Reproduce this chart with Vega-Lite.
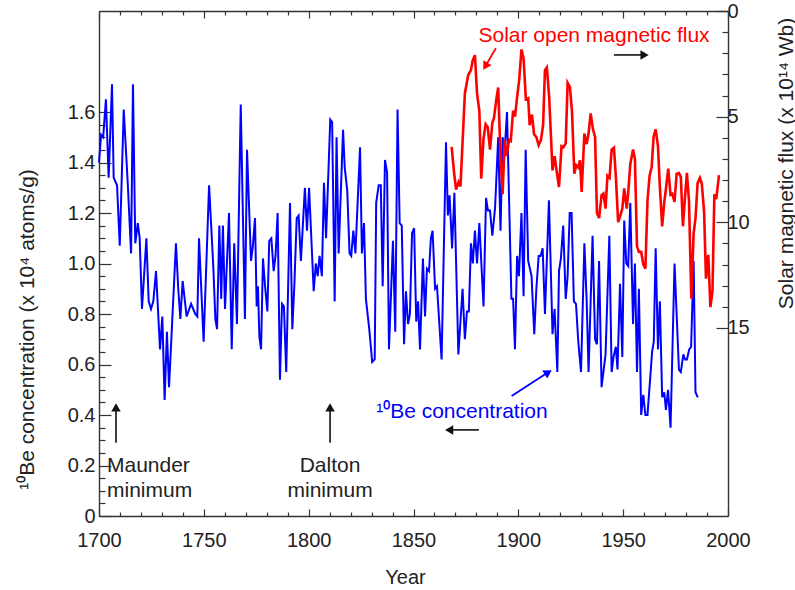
{
  "$schema": "https://vega.github.io/schema/vega-lite/v6.json",
  "width": 629,
  "height": 505,
  "autosize": {"type": "none"},
  "padding": {"left": 99, "top": 11, "right": 67, "bottom": 74},
  "background": "white",
  "config": {
    "view": {"stroke": null},
    "font": "Liberation Sans",
    "axis": {
      "grid": false,
      "domainColor": "#333",
      "domainWidth": 1.4,
      "tickColor": "#333",
      "tickWidth": 1.2,
      "labelFont": "Liberation Sans",
      "labelFontSize": 20,
      "labelColor": "#222",
      "labelOverlap": false,
      "labelFlush": false,
      "titleFont": "Liberation Sans",
      "titleFontWeight": "normal",
      "titleColor": "#222"
    }
  },
  "datasets": {
    "be": [
      {"year": 1700.0, "be": 1.40}, {"year": 1701.0, "be": 1.51}, {"year": 1702.0, "be": 1.50}, {"year": 1703.3, "be": 1.65},
      {"year": 1704.6, "be": 1.34}, {"year": 1706.2, "be": 1.71}, {"year": 1707.0, "be": 1.34}, {"year": 1708.6, "be": 1.31},
      {"year": 1709.9, "be": 1.07}, {"year": 1711.8, "be": 1.61}, {"year": 1713.7, "be": 1.32}, {"year": 1715.3, "be": 1.04},
      {"year": 1716.2, "be": 1.71}, {"year": 1717.3, "be": 1.08}, {"year": 1718.5, "be": 1.16}, {"year": 1719.4, "be": 1.10},
      {"year": 1720.5, "be": 0.82}, {"year": 1722.6, "be": 1.10}, {"year": 1723.7, "be": 0.85}, {"year": 1724.8, "be": 0.82},
      {"year": 1725.9, "be": 0.85}, {"year": 1727.2, "be": 0.97}, {"year": 1729.1, "be": 0.66}, {"year": 1730.2, "be": 0.79},
      {"year": 1731.3, "be": 0.46}, {"year": 1732.4, "be": 0.73}, {"year": 1733.4, "be": 0.51}, {"year": 1736.7, "be": 1.08},
      {"year": 1737.8, "be": 0.90}, {"year": 1738.8, "be": 0.78}, {"year": 1739.9, "be": 0.93}, {"year": 1741.8, "be": 0.79},
      {"year": 1743.9, "be": 0.84}, {"year": 1745.9, "be": 0.80}, {"year": 1746.9, "be": 0.79}, {"year": 1747.7, "be": 1.10},
      {"year": 1749.9, "be": 0.69}, {"year": 1752.5, "be": 1.31}, {"year": 1754.5, "be": 0.99}, {"year": 1755.5, "be": 0.78},
      {"year": 1756.3, "be": 0.74}, {"year": 1757.4, "be": 1.15}, {"year": 1758.3, "be": 0.86}, {"year": 1759.1, "be": 1.15},
      {"year": 1760.1, "be": 0.82}, {"year": 1762.0, "be": 1.20}, {"year": 1763.3, "be": 0.66}, {"year": 1764.5, "be": 1.08},
      {"year": 1765.8, "be": 0.76}, {"year": 1767.6, "be": 1.63}, {"year": 1769.6, "be": 0.78}, {"year": 1770.6, "be": 1.45},
      {"year": 1772.5, "be": 1.01}, {"year": 1773.4, "be": 1.07}, {"year": 1774.4, "be": 1.18}, {"year": 1775.2, "be": 0.83},
      {"year": 1775.8, "be": 0.91}, {"year": 1776.5, "be": 0.71}, {"year": 1777.3, "be": 0.66}, {"year": 1778.2, "be": 1.02},
      {"year": 1779.2, "be": 0.91}, {"year": 1780.3, "be": 0.81}, {"year": 1781.2, "be": 1.09}, {"year": 1782.2, "be": 1.10},
      {"year": 1783.3, "be": 0.97}, {"year": 1784.2, "be": 1.03}, {"year": 1785.2, "be": 1.20}, {"year": 1786.3, "be": 0.54},
      {"year": 1787.3, "be": 0.84}, {"year": 1788.2, "be": 0.83}, {"year": 1789.3, "be": 0.57}, {"year": 1791.1, "be": 1.24},
      {"year": 1792.2, "be": 0.74}, {"year": 1793.2, "be": 0.92}, {"year": 1794.3, "be": 1.18}, {"year": 1795.2, "be": 1.19},
      {"year": 1796.3, "be": 1.01}, {"year": 1798.2, "be": 1.30}, {"year": 1799.2, "be": 1.13}, {"year": 1800.2, "be": 1.30},
      {"year": 1802.4, "be": 0.89}, {"year": 1803.4, "be": 1.00}, {"year": 1804.3, "be": 0.95}, {"year": 1805.2, "be": 1.03},
      {"year": 1806.3, "be": 0.95}, {"year": 1807.3, "be": 1.32}, {"year": 1808.3, "be": 1.10}, {"year": 1810.3, "be": 1.57},
      {"year": 1811.2, "be": 1.56}, {"year": 1812.4, "be": 0.85}, {"year": 1813.3, "be": 1.50}, {"year": 1814.3, "be": 1.04},
      {"year": 1816.4, "be": 1.53}, {"year": 1817.2, "be": 1.38}, {"year": 1818.4, "be": 1.29}, {"year": 1819.5, "be": 1.04},
      {"year": 1820.3, "be": 1.03}, {"year": 1821.3, "be": 1.13}, {"year": 1822.3, "be": 1.04}, {"year": 1824.5, "be": 1.46},
      {"year": 1825.4, "be": 1.04}, {"year": 1826.4, "be": 1.16}, {"year": 1827.3, "be": 0.86}, {"year": 1828.9, "be": 0.74},
      {"year": 1830.3, "be": 0.61}, {"year": 1831.5, "be": 0.62}, {"year": 1832.2, "be": 1.24}, {"year": 1833.4, "be": 1.31},
      {"year": 1834.4, "be": 1.31}, {"year": 1835.3, "be": 0.91}, {"year": 1836.4, "be": 1.41}, {"year": 1837.4, "be": 1.36},
      {"year": 1838.3, "be": 0.66}, {"year": 1840.2, "be": 1.09}, {"year": 1841.3, "be": 0.73}, {"year": 1842.4, "be": 1.61},
      {"year": 1843.4, "be": 1.16}, {"year": 1844.4, "be": 1.15}, {"year": 1845.5, "be": 0.68}, {"year": 1846.4, "be": 0.89},
      {"year": 1847.4, "be": 0.76}, {"year": 1848.3, "be": 0.80}, {"year": 1849.3, "be": 1.12}, {"year": 1850.3, "be": 1.14},
      {"year": 1851.3, "be": 0.77}, {"year": 1852.2, "be": 0.85}, {"year": 1853.1, "be": 0.66}, {"year": 1854.5, "be": 1.02},
      {"year": 1855.5, "be": 0.79}, {"year": 1856.4, "be": 0.98}, {"year": 1857.4, "be": 0.97}, {"year": 1858.3, "be": 1.10},
      {"year": 1859.1, "be": 1.13}, {"year": 1860.3, "be": 0.90}, {"year": 1861.2, "be": 0.91}, {"year": 1863.4, "be": 0.62},
      {"year": 1865.5, "be": 1.48}, {"year": 1866.4, "be": 1.19}, {"year": 1867.2, "be": 1.27}, {"year": 1868.4, "be": 1.06},
      {"year": 1869.5, "be": 1.28}, {"year": 1871.4, "be": 0.64}, {"year": 1873.4, "be": 0.90}, {"year": 1874.5, "be": 0.70},
      {"year": 1875.5, "be": 0.81}, {"year": 1876.4, "be": 0.81}, {"year": 1877.4, "be": 1.08}, {"year": 1878.3, "be": 1.00},
      {"year": 1879.3, "be": 1.13}, {"year": 1880.3, "be": 1.00}, {"year": 1881.4, "be": 1.16}, {"year": 1883.4, "be": 0.83},
      {"year": 1884.6, "be": 1.26}, {"year": 1885.5, "be": 1.21}, {"year": 1886.5, "be": 1.21}, {"year": 1887.6, "be": 1.11},
      {"year": 1888.9, "be": 1.22}, {"year": 1890.4, "be": 1.50}, {"year": 1891.5, "be": 1.13}, {"year": 1892.5, "be": 1.50},
      {"year": 1893.5, "be": 1.45}, {"year": 1894.6, "be": 1.60}, {"year": 1896.7, "be": 0.86}, {"year": 1897.5, "be": 0.86},
      {"year": 1898.4, "be": 0.66}, {"year": 1899.4, "be": 1.03}, {"year": 1900.3, "be": 0.95}, {"year": 1901.5, "be": 1.20},
      {"year": 1902.5, "be": 0.87}, {"year": 1903.5, "be": 1.45}, {"year": 1904.7, "be": 1.01}, {"year": 1906.3, "be": 0.95},
      {"year": 1907.6, "be": 0.72}, {"year": 1908.6, "be": 0.90}, {"year": 1909.7, "be": 1.03}, {"year": 1910.6, "be": 1.03},
      {"year": 1911.6, "be": 1.06}, {"year": 1912.7, "be": 0.80}, {"year": 1914.6, "be": 1.25}, {"year": 1916.3, "be": 0.72},
      {"year": 1917.3, "be": 0.82}, {"year": 1918.6, "be": 0.57}, {"year": 1919.4, "be": 0.97}, {"year": 1920.3, "be": 1.02},
      {"year": 1921.4, "be": 1.15}, {"year": 1922.6, "be": 0.86}, {"year": 1923.5, "be": 0.95}, {"year": 1924.5, "be": 1.20},
      {"year": 1925.4, "be": 1.20}, {"year": 1926.5, "be": 0.85}, {"year": 1927.5, "be": 0.84}, {"year": 1928.6, "be": 0.69},
      {"year": 1929.9, "be": 0.57}, {"year": 1931.5, "be": 1.08}, {"year": 1932.6, "be": 0.85}, {"year": 1933.5, "be": 0.57},
      {"year": 1935.4, "be": 1.11}, {"year": 1936.6, "be": 0.70}, {"year": 1937.5, "be": 0.68}, {"year": 1938.5, "be": 1.01},
      {"year": 1939.7, "be": 0.51}, {"year": 1941.6, "be": 0.64}, {"year": 1943.4, "be": 1.11}, {"year": 1944.5, "be": 0.57},
      {"year": 1945.4, "be": 0.63}, {"year": 1946.5, "be": 0.67}, {"year": 1947.3, "be": 0.58}, {"year": 1948.5, "be": 0.92},
      {"year": 1949.6, "be": 0.63}, {"year": 1950.5, "be": 1.17}, {"year": 1951.5, "be": 1.00}, {"year": 1952.4, "be": 0.99},
      {"year": 1953.4, "be": 1.24}, {"year": 1954.7, "be": 0.76}, {"year": 1955.6, "be": 1.00}, {"year": 1956.6, "be": 0.57},
      {"year": 1957.5, "be": 0.90}, {"year": 1958.6, "be": 0.40}, {"year": 1959.6, "be": 0.48}, {"year": 1960.6, "be": 0.40},
      {"year": 1961.6, "be": 0.40}, {"year": 1963.8, "be": 0.65}, {"year": 1964.6, "be": 0.69}, {"year": 1965.5, "be": 1.06},
      {"year": 1966.6, "be": 0.66}, {"year": 1967.5, "be": 0.85}, {"year": 1968.6, "be": 0.47}, {"year": 1969.6, "be": 0.49},
      {"year": 1970.4, "be": 0.42}, {"year": 1971.4, "be": 0.50}, {"year": 1972.6, "be": 0.35}, {"year": 1974.5, "be": 1.00},
      {"year": 1976.6, "be": 0.58}, {"year": 1977.5, "be": 0.57}, {"year": 1978.7, "be": 0.64}, {"year": 1979.5, "be": 0.62},
      {"year": 1980.4, "be": 0.62}, {"year": 1981.5, "be": 0.66}, {"year": 1982.4, "be": 0.67}, {"year": 1983.6, "be": 1.01},
      {"year": 1984.5, "be": 0.49}, {"year": 1985.6, "be": 0.47}
    ],
    "flux": [
      {"year": 1868.2, "flux": 6.43}, {"year": 1869.3, "flux": 7.6}, {"year": 1870.3, "flux": 8.45}, {"year": 1871.5, "flux": 8.1},
      {"year": 1872.4, "flux": 8.3}, {"year": 1874.5, "flux": 3.9}, {"year": 1876.1, "flux": 3.03}, {"year": 1877.4, "flux": 2.8},
      {"year": 1878.2, "flux": 2.35}, {"year": 1879.3, "flux": 2.09}, {"year": 1880.3, "flux": 3.9}, {"year": 1881.4, "flux": 4.72},
      {"year": 1882.3, "flux": 7.93}, {"year": 1883.4, "flux": 6.05}, {"year": 1884.4, "flux": 5.36}, {"year": 1885.4, "flux": 5.5},
      {"year": 1886.5, "flux": 6.56}, {"year": 1887.6, "flux": 5.3}, {"year": 1888.4, "flux": 5.05}, {"year": 1889.5, "flux": 4.18},
      {"year": 1890.4, "flux": 3.62}, {"year": 1891.3, "flux": 6.3}, {"year": 1892.5, "flux": 8.67}, {"year": 1893.5, "flux": 6.1},
      {"year": 1894.4, "flux": 6.87}, {"year": 1895.6, "flux": 6.1}, {"year": 1896.4, "flux": 6.15}, {"year": 1897.5, "flux": 4.72},
      {"year": 1898.4, "flux": 5.0}, {"year": 1899.4, "flux": 4.1}, {"year": 1900.4, "flux": 3.27}, {"year": 1901.5, "flux": 1.82},
      {"year": 1902.5, "flux": 2.24}, {"year": 1903.6, "flux": 4.18}, {"year": 1904.7, "flux": 4.13}, {"year": 1905.4, "flux": 5.4},
      {"year": 1906.5, "flux": 4.9}, {"year": 1907.5, "flux": 5.83}, {"year": 1908.6, "flux": 5.97}, {"year": 1909.7, "flux": 6.35},
      {"year": 1910.8, "flux": 6.1}, {"year": 1911.8, "flux": 5.4}, {"year": 1912.7, "flux": 2.8}, {"year": 1913.6, "flux": 2.67},
      {"year": 1914.7, "flux": 4.06}, {"year": 1916.3, "flux": 7.54}, {"year": 1917.3, "flux": 6.87}, {"year": 1918.3, "flux": 7.6},
      {"year": 1919.4, "flux": 8.33}, {"year": 1920.6, "flux": 6.4}, {"year": 1921.5, "flux": 6.45}, {"year": 1922.6, "flux": 6.27},
      {"year": 1923.5, "flux": 3.4}, {"year": 1924.6, "flux": 3.6}, {"year": 1925.6, "flux": 4.77}, {"year": 1926.7, "flux": 7.7},
      {"year": 1927.6, "flux": 7.3}, {"year": 1928.6, "flux": 7.4}, {"year": 1929.4, "flux": 7.06}, {"year": 1930.2, "flux": 8.56},
      {"year": 1931.5, "flux": 5.8}, {"year": 1932.6, "flux": 6.3}, {"year": 1933.5, "flux": 5.8}, {"year": 1934.5, "flux": 4.85},
      {"year": 1935.6, "flux": 5.6}, {"year": 1936.6, "flux": 5.96}, {"year": 1937.5, "flux": 9.56}, {"year": 1938.5, "flux": 9.8},
      {"year": 1939.7, "flux": 8.72}, {"year": 1940.6, "flux": 8.64}, {"year": 1941.6, "flux": 9.35}, {"year": 1942.5, "flux": 7.8},
      {"year": 1943.5, "flux": 7.9}, {"year": 1944.5, "flux": 6.56}, {"year": 1945.6, "flux": 6.47}, {"year": 1946.5, "flux": 7.8},
      {"year": 1947.6, "flux": 9.99}, {"year": 1948.6, "flux": 9.7}, {"year": 1949.6, "flux": 9.35}, {"year": 1950.5, "flux": 8.4},
      {"year": 1951.7, "flux": 9.35}, {"year": 1952.4, "flux": 8.6}, {"year": 1953.4, "flux": 7.25}, {"year": 1954.7, "flux": 6.56},
      {"year": 1955.6, "flux": 6.99}, {"year": 1956.6, "flux": 11.14}, {"year": 1957.5, "flux": 11.4}, {"year": 1958.6, "flux": 11.4},
      {"year": 1959.6, "flux": 11.99}, {"year": 1960.6, "flux": 12.2}, {"year": 1961.6, "flux": 8.96}, {"year": 1962.6, "flux": 7.8},
      {"year": 1963.6, "flux": 7.38}, {"year": 1964.5, "flux": 5.96}, {"year": 1965.5, "flux": 5.6}, {"year": 1966.6, "flux": 6.4},
      {"year": 1967.5, "flux": 8.33}, {"year": 1968.6, "flux": 10.19}, {"year": 1969.6, "flux": 9.05}, {"year": 1970.5, "flux": 8.33},
      {"year": 1971.5, "flux": 7.46}, {"year": 1972.6, "flux": 8.7}, {"year": 1973.4, "flux": 8.65}, {"year": 1974.5, "flux": 9.04},
      {"year": 1975.5, "flux": 7.7}, {"year": 1976.6, "flux": 7.67}, {"year": 1977.5, "flux": 7.85}, {"year": 1978.5, "flux": 10.19},
      {"year": 1979.5, "flux": 8.8}, {"year": 1980.4, "flux": 7.66}, {"year": 1981.4, "flux": 9.0}, {"year": 1982.5, "flux": 13.62},
      {"year": 1983.6, "flux": 10.54}, {"year": 1984.5, "flux": 9.8}, {"year": 1985.5, "flux": 8.14}, {"year": 1986.6, "flux": 7.9},
      {"year": 1987.5, "flux": 8.17}, {"year": 1988.6, "flux": 9.51}, {"year": 1989.5, "flux": 12.67}, {"year": 1990.6, "flux": 11.54},
      {"year": 1991.6, "flux": 14.01}, {"year": 1992.6, "flux": 13.25}, {"year": 1993.5, "flux": 8.67}, {"year": 1994.4, "flux": 8.9},
      {"year": 1995.7, "flux": 7.77}
    ],
    "notes": [
      {"note": "maunder", "year": 1703.8, "be": 0.174, "text": "Maunder"},
      {"note": "maunder", "year": 1703.8, "be": 0.075, "text": "minimum"},
      {"note": "dalton", "year": 1810.2, "be": 0.174, "text": "Dalton"},
      {"note": "dalton", "year": 1810.2, "be": 0.075, "text": "minimum"},
      {"note": "flux", "year": 1936.1, "be": 1.877, "text": "Solar open magnetic flux"},
      {"note": "be", "year": 1873.1, "be": 0.387, "text": "¹⁰Be concentration"}
    ],
    "arrows": [
      {"arrow": "maunder", "year": 1708.1, "be": 0.29, "year2": 1708.1, "be2": 0.43},
      {"arrow": "dalton", "year": 1810.2, "be": 0.29, "year2": 1810.2, "be2": 0.43},
      {"arrow": "right", "year": 1945.6, "be": 1.826, "year2": 1960.2, "be2": 1.826},
      {"arrow": "left", "year": 1881.2, "be": 0.341, "year2": 1867.0, "be2": 0.341},
      {"arrow": "flux", "year": 1889.3, "be": 1.853, "year2": 1884.6, "be2": 1.786},
      {"arrow": "be", "year": 1896.8, "be": 0.475, "year2": 1913.7, "be2": 0.566}
    ]
  },
  "resolve": {
    "scale": {"y": "independent"},
    "axis": {"x": "independent", "y": "independent"}
  },
  "layer": [
    {
      "description": "Minor ticks for the bottom and left axes (the line itself is hidden)",
      "data": {"name": "be"},
      "mark": {"type": "line", "opacity": 0},
      "encoding": {
        "x": {
          "field": "year", "type": "quantitative",
          "scale": {"domain": [1700, 2000], "nice": false, "zero": false},
          "axis": {
            "orient": "bottom",
            "values": [1710, 1720, 1730, 1740, 1760, 1770, 1780, 1790, 1810, 1820, 1830, 1840, 1860, 1870, 1880, 1890, 1910, 1920, 1930, 1940, 1960, 1970, 1980, 1990],
            "tickSize": -4, "labels": false, "domain": false, "title": null
          }
        },
        "y": {
          "field": "be", "type": "quantitative",
          "scale": {"domain": [0, 2], "nice": false, "zero": false},
          "axis": {
            "orient": "left",
            "values": [0.05, 0.1, 0.15, 0.25, 0.3, 0.35, 0.45, 0.5, 0.55, 0.65, 0.7, 0.75, 0.85, 0.9, 0.95, 1.05, 1.1, 1.15, 1.25, 1.3, 1.35, 1.45, 1.5, 1.55],
            "tickSize": -6, "labels": false, "domain": false, "title": null
          }
        }
      }
    },
    {
      "description": "Minor ticks for the top and right axes (the line itself is hidden)",
      "data": {"name": "flux"},
      "mark": {"type": "line", "opacity": 0},
      "encoding": {
        "x": {
          "field": "year", "type": "quantitative",
          "scale": {"domain": [1700, 2000], "nice": false, "zero": false},
          "axis": {
            "orient": "top",
            "values": [1710, 1720, 1730, 1740, 1760, 1770, 1780, 1790, 1810, 1820, 1830, 1840, 1860, 1870, 1880, 1890, 1910, 1920, 1930, 1940, 1960, 1970, 1980, 1990],
            "tickSize": -4, "labels": false, "domain": false, "title": null
          }
        },
        "y": {
          "field": "flux", "type": "quantitative",
          "scale": {"domain": [0, 23.9], "reverse": true, "nice": false, "zero": false},
          "axis": {
            "orient": "right",
            "values": [1, 2, 3, 4, 6, 7, 8, 9, 11, 12, 13, 14],
            "tickSize": -6, "labels": false, "domain": false, "title": null
          }
        }
      }
    },
    {
      "data": {"name": "be"},
      "mark": {"type": "line", "color": "#0000ff", "strokeWidth": 2},
      "encoding": {
        "x": {
          "field": "year", "type": "quantitative",
          "scale": {"domain": [1700, 2000], "nice": false, "zero": false},
          "axis": {
            "orient": "bottom",
            "values": [1700, 1750, 1800, 1850, 1900, 1950, 2000],
            "format": "d",
            "tickSize": -7,
            "labelPadding": 21,
            "title": "Year",
            "titleFontSize": 20,
            "titleX": 306,
            "titleY": 67,
            "titleAlign": "center",
            "titleBaseline": "alphabetic"
          }
        },
        "y": {
          "field": "be", "type": "quantitative",
          "scale": {"domain": [0, 2], "nice": false, "zero": false},
          "axis": {
            "orient": "left",
            "values": [0, 0.2, 0.4, 0.6, 0.8, 1.0, 1.2, 1.4, 1.6],
            "labelExpr": "datum.value == 0 ? '0' : format(datum.value, '.1f')",
            "tickSize": -12,
            "labelPadding": 16,
            "title": "¹⁰Be concentration (x 10⁴ atoms/g)",
            "titleFontSize": 21,
            "titleAngle": -90,
            "titleX": -66,
            "titleY": 318,
            "titleAlign": "center",
            "titleBaseline": "alphabetic"
          }
        }
      }
    },
    {
      "data": {"name": "flux"},
      "mark": {"type": "line", "color": "#ff0000", "strokeWidth": 2.6},
      "encoding": {
        "x": {
          "field": "year", "type": "quantitative",
          "scale": {"domain": [1700, 2000], "nice": false, "zero": false},
          "axis": {
            "orient": "top",
            "values": [1700, 1750, 1800, 1850, 1900, 1950, 2000],
            "tickSize": -7,
            "labels": false,
            "title": null
          }
        },
        "y": {
          "field": "flux", "type": "quantitative",
          "scale": {"domain": [0, 23.9], "reverse": true, "nice": false, "zero": false},
          "axis": {
            "orient": "right",
            "values": [0, 5, 10, 15],
            "tickSize": -12,
            "labelPadding": 11,
            "title": "Solar magnetic flux (x 10¹⁴ Wb)",
            "titleFontSize": 21,
            "titleAngle": -90,
            "titleX": 64,
            "titleY": 152,
            "titleAlign": "center",
            "titleBaseline": "alphabetic"
          }
        }
      }
    },
    {
      "data": {"name": "arrows"},
      "transform": [{"filter": "datum.arrow === 'maunder' || datum.arrow === 'dalton' || datum.arrow === 'right' || datum.arrow === 'left'"}],
      "mark": {"type": "rule", "color": "#111", "strokeWidth": 1.6},
      "encoding": {
        "x": {"field": "year", "type": "quantitative", "scale": {"domain": [1700, 2000], "nice": false, "zero": false}, "axis": null},
        "x2": {"field": "year2"},
        "y": {"field": "be", "type": "quantitative", "scale": {"domain": [0, 2], "nice": false, "zero": false}, "axis": null},
        "y2": {"field": "be2"}
      }
    },
    {
      "data": {"name": "arrows"},
      "transform": [{"filter": "datum.arrow === 'flux'"}],
      "mark": {"type": "rule", "color": "#ff0000", "strokeWidth": 1.8},
      "encoding": {
        "x": {"field": "year", "type": "quantitative", "scale": {"domain": [1700, 2000], "nice": false, "zero": false}, "axis": null},
        "x2": {"field": "year2"},
        "y": {"field": "be", "type": "quantitative", "scale": {"domain": [0, 2], "nice": false, "zero": false}, "axis": null},
        "y2": {"field": "be2"}
      }
    },
    {
      "data": {"name": "arrows"},
      "transform": [{"filter": "datum.arrow === 'be'"}],
      "mark": {"type": "rule", "color": "#0000ff", "strokeWidth": 1.8},
      "encoding": {
        "x": {"field": "year", "type": "quantitative", "scale": {"domain": [1700, 2000], "nice": false, "zero": false}, "axis": null},
        "x2": {"field": "year2"},
        "y": {"field": "be", "type": "quantitative", "scale": {"domain": [0, 2], "nice": false, "zero": false}, "axis": null},
        "y2": {"field": "be2"}
      }
    },
    {
      "data": {"name": "arrows"},
      "transform": [{"filter": "datum.arrow === 'maunder' || datum.arrow === 'dalton'"}],
      "mark": {"type": "point", "shape": "triangle-up", "filled": true, "color": "#111", "size": 90, "opacity": 1},
      "encoding": {
        "x": {"field": "year2", "type": "quantitative", "scale": {"domain": [1700, 2000], "nice": false, "zero": false}, "axis": null},
        "y": {"field": "be2", "type": "quantitative", "scale": {"domain": [0, 2], "nice": false, "zero": false}, "axis": null}
      }
    },
    {
      "data": {"name": "arrows"},
      "transform": [{"filter": "datum.arrow === 'right'"}],
      "mark": {"type": "point", "shape": "triangle-right", "filled": true, "color": "#111", "size": 90, "opacity": 1},
      "encoding": {
        "x": {"field": "year2", "type": "quantitative", "scale": {"domain": [1700, 2000], "nice": false, "zero": false}, "axis": null},
        "y": {"field": "be2", "type": "quantitative", "scale": {"domain": [0, 2], "nice": false, "zero": false}, "axis": null}
      }
    },
    {
      "data": {"name": "arrows"},
      "transform": [{"filter": "datum.arrow === 'left'"}],
      "mark": {"type": "point", "shape": "triangle-left", "filled": true, "color": "#111", "size": 90, "opacity": 1},
      "encoding": {
        "x": {"field": "year2", "type": "quantitative", "scale": {"domain": [1700, 2000], "nice": false, "zero": false}, "axis": null},
        "y": {"field": "be2", "type": "quantitative", "scale": {"domain": [0, 2], "nice": false, "zero": false}, "axis": null}
      }
    },
    {
      "data": {"name": "arrows"},
      "transform": [{"filter": "datum.arrow === 'flux'"}],
      "mark": {"type": "point", "shape": "triangle", "angle": 211, "filled": true, "color": "#ff0000", "size": 90, "opacity": 1},
      "encoding": {
        "x": {"field": "year2", "type": "quantitative", "scale": {"domain": [1700, 2000], "nice": false, "zero": false}, "axis": null},
        "y": {"field": "be2", "type": "quantitative", "scale": {"domain": [0, 2], "nice": false, "zero": false}, "axis": null}
      }
    },
    {
      "data": {"name": "arrows"},
      "transform": [{"filter": "datum.arrow === 'be'"}],
      "mark": {"type": "point", "shape": "triangle", "angle": 58, "filled": true, "color": "#0000ff", "size": 90, "opacity": 1},
      "encoding": {
        "x": {"field": "year2", "type": "quantitative", "scale": {"domain": [1700, 2000], "nice": false, "zero": false}, "axis": null},
        "y": {"field": "be2", "type": "quantitative", "scale": {"domain": [0, 2], "nice": false, "zero": false}, "axis": null}
      }
    },
    {
      "data": {"name": "notes"},
      "transform": [{"filter": "datum.note === 'maunder'"}],
      "mark": {"type": "text", "align": "left", "baseline": "alphabetic", "font": "Liberation Sans", "fontSize": 21, "color": "#222"},
      "encoding": {
        "x": {"field": "year", "type": "quantitative", "scale": {"domain": [1700, 2000], "nice": false, "zero": false}, "axis": null},
        "y": {"field": "be", "type": "quantitative", "scale": {"domain": [0, 2], "nice": false, "zero": false}, "axis": null},
        "text": {"field": "text"}
      }
    },
    {
      "data": {"name": "notes"},
      "transform": [{"filter": "datum.note === 'dalton'"}],
      "mark": {"type": "text", "align": "center", "baseline": "alphabetic", "font": "Liberation Sans", "fontSize": 21, "color": "#222"},
      "encoding": {
        "x": {"field": "year", "type": "quantitative", "scale": {"domain": [1700, 2000], "nice": false, "zero": false}, "axis": null},
        "y": {"field": "be", "type": "quantitative", "scale": {"domain": [0, 2], "nice": false, "zero": false}, "axis": null},
        "text": {"field": "text"}
      }
    },
    {
      "data": {"name": "notes"},
      "transform": [{"filter": "datum.note === 'flux'"}],
      "mark": {"type": "text", "align": "center", "baseline": "alphabetic", "font": "Liberation Sans", "fontSize": 21, "color": "#ff0000"},
      "encoding": {
        "x": {"field": "year", "type": "quantitative", "scale": {"domain": [1700, 2000], "nice": false, "zero": false}, "axis": null},
        "y": {"field": "be", "type": "quantitative", "scale": {"domain": [0, 2], "nice": false, "zero": false}, "axis": null},
        "text": {"field": "text"}
      }
    },
    {
      "data": {"name": "notes"},
      "transform": [{"filter": "datum.note === 'be'"}],
      "mark": {"type": "text", "align": "center", "baseline": "alphabetic", "font": "Liberation Sans", "fontSize": 21, "color": "#0000ff"},
      "encoding": {
        "x": {"field": "year", "type": "quantitative", "scale": {"domain": [1700, 2000], "nice": false, "zero": false}, "axis": null},
        "y": {"field": "be", "type": "quantitative", "scale": {"domain": [0, 2], "nice": false, "zero": false}, "axis": null},
        "text": {"field": "text"}
      }
    }
  ]
}
